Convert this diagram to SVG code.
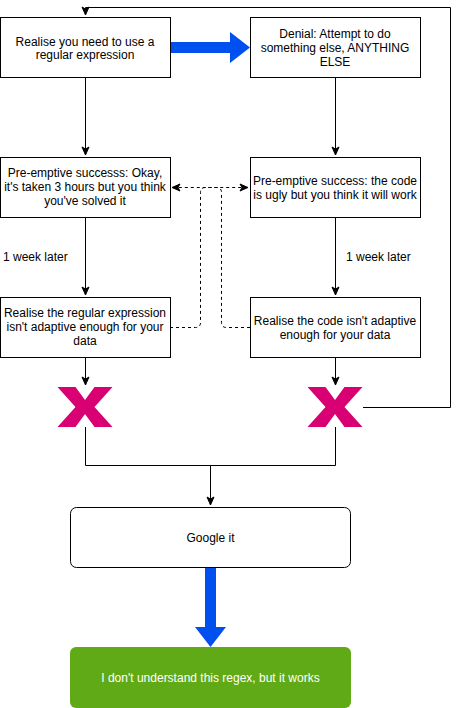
<svg xmlns="http://www.w3.org/2000/svg" width="459" height="708" viewBox="0 0 459 708">
<style>
.box{fill:#fff;stroke:#000;stroke-width:1}
.t{font-family:"Liberation Sans",Arial,sans-serif;font-size:12px;fill:#000;text-anchor:middle}
.lbl{font-family:"Liberation Sans",Arial,sans-serif;font-size:12px;fill:#000}
.e{fill:none;stroke:#000;stroke-width:1}
.d{fill:none;stroke:#000;stroke-width:1;stroke-dasharray:3 3}
.x{fill:#d80073}
.blue{fill:#0050ef}
</style>
<defs>
<marker id="ah" markerUnits="userSpaceOnUse" markerWidth="10" markerHeight="10" viewBox="0 0 10 10" refX="9" refY="5" orient="auto-start-reverse">
<path d="M1,1.5 L9,5 L1,8.5 L3,5 Z" fill="#000" stroke="#000" stroke-width="1"/>
</marker>
<polygon id="xs" points="0,0 18,0 27.5,13 37,0 55,0 37,20 55,40 37,40 27.5,27 18,40 0,40 18,20"/>
</defs>
<rect width="459" height="708" fill="#fff"/>

<g id="connectors">
<path class="e" d="M85.5,77 V155" marker-end="url(#ah)"/>
<path class="e" d="M335.5,77 V155" marker-end="url(#ah)"/>
<path class="e" d="M85.5,217 V295" marker-end="url(#ah)"/>
<path class="e" d="M335.5,217 V295" marker-end="url(#ah)"/>
<path class="e" d="M85.5,357 V385" marker-end="url(#ah)"/>
<path class="e" d="M335.5,357 V385" marker-end="url(#ah)"/>
<path class="e" d="M85.5,427 V465.5 H335.5 V427"/>
<path class="e" d="M210.5,465.5 V505" marker-end="url(#ah)"/>
<path class="e" d="M363,407.5 H450.5 V7.5 H85.5 V15" marker-end="url(#ah)"/>
<path class="d" d="M170,327.5 H195.5 Q200.5,327.5 200.5,322.5 V192.5 Q200.5,187.5 205.5,187.5 H248" marker-end="url(#ah)"/>
<path class="d" d="M250,327.5 H226.5 Q221.5,327.5 221.5,322.5 V192.5 Q221.5,187.5 216.5,187.5 H172" marker-end="url(#ah)"/>
<polygon class="blue" points="170,42 230,42 230,32 250,47.5 230,63 230,53 170,53"/>
<polygon class="blue" points="205,567 216,567 216,627 226,627 210.5,647 195,627 205,627"/>
<text class="lbl" x="3" y="261">1 week later</text>
<text class="lbl" x="346" y="261">1 week later</text>
</g>

<g id="n1"><rect class="box" x="0.5" y="17.5" width="170" height="60"/>
<text class="t" x="85" y="46">Realise you need to use a</text>
<text class="t" x="85" y="59">regular expression</text></g>

<g id="n2"><rect class="box" x="250.5" y="17.5" width="170" height="60"/>
<text class="t" x="335" y="38">Denial: Attempt to do</text>
<text class="t" x="335" y="52">something else, ANYTHING</text>
<text class="t" x="335" y="66">ELSE</text></g>

<g id="n3"><rect class="box" x="0.5" y="157.5" width="170" height="60"/>
<text class="t" x="85" y="177">Pre-emptive successs: Okay,</text>
<text class="t" x="85" y="191">it's taken 3 hours but you think</text>
<text class="t" x="85" y="205">you've solved it</text></g>

<g id="n4"><rect class="box" x="250.5" y="157.5" width="170" height="60"/>
<text class="t" x="335" y="185">Pre-emptive success: the code</text>
<text class="t" x="335" y="199">is ugly but you think it will work</text></g>

<g id="n5"><rect class="box" x="0.5" y="297.5" width="170" height="60"/>
<text class="t" x="85" y="317">Realise the regular expression</text>
<text class="t" x="85" y="331">isn't adaptive enough for your</text>
<text class="t" x="85" y="345">data</text></g>

<g id="n6"><rect class="box" x="250.5" y="297.5" width="170" height="60"/>
<text class="t" x="335" y="325">Realise the code isn't adaptive</text>
<text class="t" x="335" y="339">enough for your data</text></g>

<g id="x1"><use href="#xs" class="x" x="57.5" y="387"/></g>
<g id="x2"><use href="#xs" class="x" x="307.5" y="387"/></g>

<g id="n7"><rect class="box" x="70.5" y="507.5" width="280" height="60" rx="6"/>
<text class="t" x="210.5" y="542">Google it</text></g>

<g id="n8"><rect x="70" y="647" width="281" height="61" rx="6" fill="#60a917"/>
<text class="t" x="210.5" y="682" style="fill:#fff">I don't understand this regex, but it works</text></g>
</svg>
